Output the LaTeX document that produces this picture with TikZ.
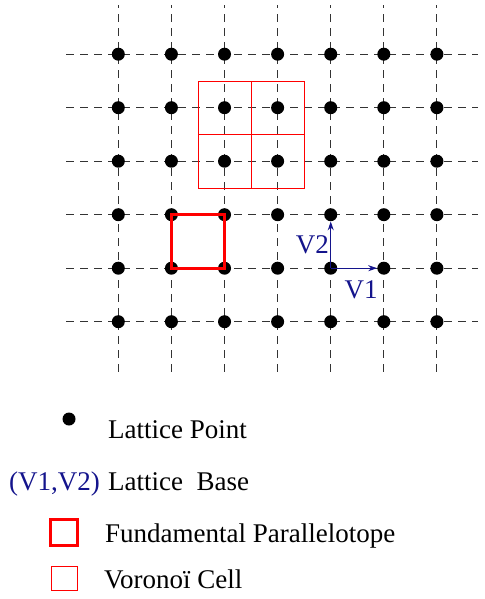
\documentclass[tikz,border=0pt]{standalone}
\usepackage{fontspec}
\setmainfont{Liberation Serif}
\usetikzlibrary{arrows.meta,positioning}
\definecolor{basecol}{RGB}{20,20,140}

\begin{document}
\begin{tikzpicture}[x=53.1pt,y=53.5pt,font=\fontsize{27}{32}\selectfont,
 pt/.style={circle,fill=black,inner sep=0pt,minimum size=13pt},
 grid/.style={black!80,line width=0.9pt,dash pattern=on 8pt off 6pt},
 vec/.style={-{Stealth[length=9pt,width=6pt]},basecol,line width=1pt},
 fund/.style={draw=red,line width=3pt},
 voro/.style={draw=red,line width=0.8pt},
 lbl/.style={anchor=base west,inner sep=0pt}]
\useasboundingbox (-2.228,-5.183) rectangle (6.887,6.013);
% dashed lattice lines
\foreach \i in {0,...,6} \draw[grid] (\i,-0.94) -- (\i,5.92);
\foreach \j in {0,...,5} \draw[grid] (-0.98,\j) -- (6.78,\j);
% voronoi cells
\draw[voro] (1.5,2.5) rectangle (3.5,4.5) (2.5,2.5) -- (2.5,4.5) (1.5,3.5) -- (3.5,3.5);
% lattice points
\foreach \i in {0,...,6}
 \foreach \j in {0,...,5}
  \node[pt] (p-\i-\j) at (\i,\j) {};
% fundamental parallelotope
\draw[fund] (p-1-1.center) rectangle (p-2-2.center);
% base vectors
\draw[vec] (p-4-1.center) -- (p-5-1);
\draw[vec] (p-4-1.center) -- (p-4-2);
\node[lbl,text=basecol] (v1) at (4.26,0.443) {V1};
\node[anchor=base east,inner sep=0pt,text=basecol] (v2) at (3.97,1.28) {V2};
% legend
\node[pt] (lp) at (-0.928,-1.819) {};
\node[lbl] (lpt) at (-0.195,-2.18) {Lattice Point};
\node[anchor=base east,inner sep=0pt,text=basecol] (lb) at (-0.345,-3.16) {(V1,V2)};
\node[lbl] (lbt) at (-0.195,-3.16) {Lattice\ \ Base};
\node[fund,minimum width=27pt,minimum height=26pt,inner sep=0pt] (lf) at (-1.02,-3.94) {};
\node[lbl] (lft) at (-0.25,-4.13) {Fundamental Parallelotope};
\node[voro,minimum width=26pt,minimum height=24pt,inner sep=0pt] (lv) at (-1.02,-4.80) {};
\node[lbl] (lvt) at (-0.27,-4.98) {Voronoï Cell};
\end{tikzpicture}
\end{document}
